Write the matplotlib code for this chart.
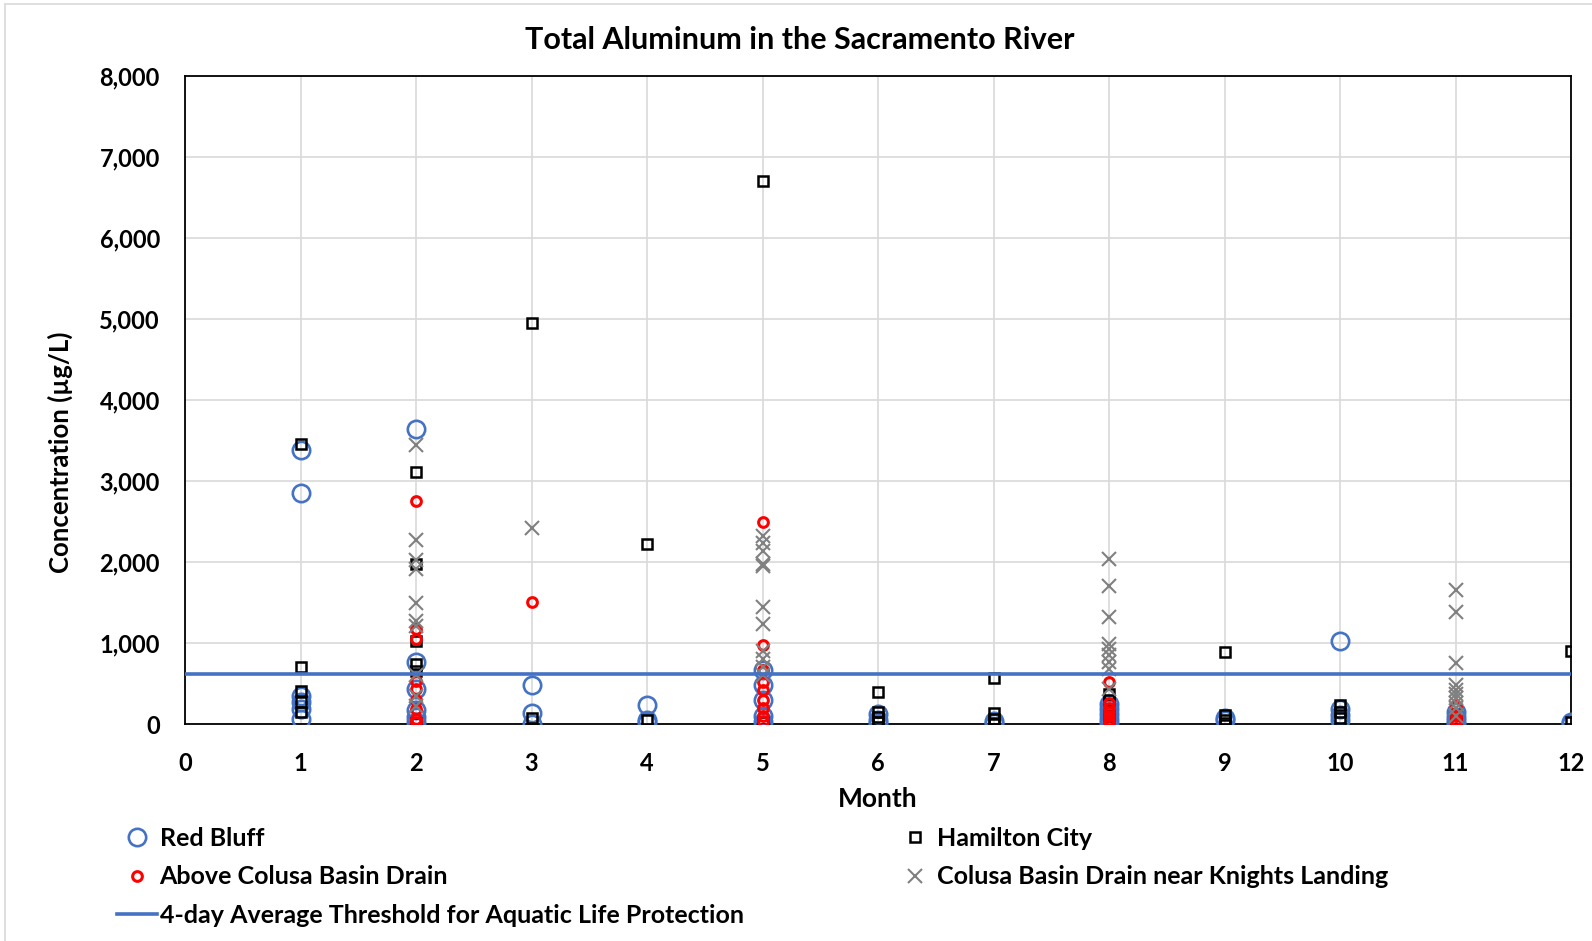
import os
import numpy as np
import matplotlib
matplotlib.use("Agg")
import matplotlib.pyplot as plt
from matplotlib import font_manager
from matplotlib.lines import Line2D
from matplotlib.patches import Rectangle
from matplotlib.ticker import FuncFormatter

# BUSCAR UN ARCHIVO DE FUENTE EN NEGRITA REAL (NO SEMIBOLD)
preferred = ['Lato', 'Roboto', 'Open Sans', 'Noto Sans', 'Liberation Sans', 'DejaVu Sans']
family, weight = 'DejaVu Sans', 'bold'
for name in preferred:
    found = None
    for f in font_manager.fontManager.ttflist:
        base = os.path.basename(f.fname).lower()
        if (f.name == name and 'bold' in base and 'italic' not in base
                and 'semi' not in base and 'extra' not in base
                and 'demi' not in base and 'oblique' not in base):
            found = f
            break
    if found is not None:
        family, weight = found.name, found.weight
        break
plt.rcParams['font.family'] = [family, 'DejaVu Sans']
plt.rcParams['font.weight'] = weight

# DATOS (mes, concentracion ug/L)
red_bluff_month = [1, 1, 1, 1, 1, 1,
                   2, 2, 2, 2, 2, 2,
                   3, 3, 3,
                   4, 4, 4,
                   5, 5, 5, 5, 5,
                   6, 6, 6,
                   7, 7,
                   8, 8, 8, 8, 8,
                   9, 9,
                   10, 10, 10, 10,
                   11, 11, 11, 11,
                   12, 12]
red_bluff_value = [3380, 2850, 350, 270, 180, 60,
                   3640, 760, 430, 170, 90, 20,
                   485, 140, 0,
                   240, 50, 20,
                   670, 480, 300, 100, 30,
                   120, 50, 10,
                   40, 10,
                   250, 180, 120, 60, 10,
                   70, 50,
                   1020, 180, 110, 50,
                   150, 90, 40, 0,
                   20, 10]

hamilton_month = [1, 1, 1, 1, 1,
                  2, 2, 2, 2, 2, 2,
                  3, 3,
                  4, 4,
                  5, 5,
                  6, 6, 6, 6,
                  7, 7, 7, 7,
                  8, 8, 8,
                  9, 9, 9, 9,
                  10, 10, 10,
                  11, 11,
                  12, 12]
hamilton_value = [3460, 700, 410, 270, 145,
                  3110, 1970, 1020, 740, 660, 10,
                  4950, 75,
                  2220, 50,
                  6700, 20,
                  395, 145, 85, 20,
                  565, 130, 65, 5,
                  370, 300, 100,
                  885, 115, 55, 10,
                  230, 145, 75,
                  50, 10,
                  900, 20]

above_colusa_month = [2, 2, 2, 2, 2, 2, 2, 2, 2,
                      3,
                      5, 5, 5, 5, 5, 5, 5, 5, 5,
                      8, 8, 8, 8, 8, 8, 8,
                      11, 11, 11, 11]
above_colusa_value = [2750, 1170, 1050, 530, 430, 300, 180, 60, 20,
                      1510,
                      2490, 980, 670, 520, 420, 300, 200, 100, 40,
                      520, 260, 200, 150, 100, 50, 10,
                      220, 100, 50, 10]

knights_month = [2, 2, 2, 2, 2, 2, 2, 2, 2, 2,
                 3,
                 5, 5, 5, 5, 5, 5, 5, 5, 5, 5, 5,
                 8, 8, 8, 8, 8, 8, 8, 8, 8,
                 11, 11, 11, 11, 11, 11, 11, 11, 11, 11]
knights_value = [3440, 2270, 2030, 1910, 1490, 1270, 1210, 600, 350, 220,
                 2420,
                 2320, 2230, 2130, 1980, 1950, 1440, 1230, 900, 800, 700, 600,
                 2040, 1700, 1320, 990, 930, 850, 760, 680, 430,
                 1650, 1380, 750, 480, 420, 370, 320, 260, 200, 100]

threshold = 620

blue = '#4472C4'

fig = plt.figure(figsize=(15.92, 9.41), dpi=100)
ax = fig.add_axes([185 / 1592, 1 - 724 / 941, (1571 - 185) / 1592, (724 - 76) / 941])

# BORDE EXTERIOR DEL GRAFICO
fig.patches.append(Rectangle((5 / 1592, -0.01), 1.01, 1 - 4 / 941 + 0.01,
                             transform=fig.transFigure, fill=False,
                             edgecolor='#d9d9d9', linewidth=1.2))

ax.plot(red_bluff_month, red_bluff_value, 'o', ms=12.5, mfc='none',
        mec=blue, mew=1.9, zorder=3)
ax.plot(hamilton_month, hamilton_value, 's', ms=7.5, mfc='none',
        mec='black', mew=1.8, zorder=4)
ax.plot(above_colusa_month, above_colusa_value, 'o', ms=7, mfc='none',
        mec='#ff0000', mew=2.2, zorder=5)
ax.plot(knights_month, knights_value, 'x', ms=10.5, color='#808080',
        mew=1.5, zorder=6)
ax.axhline(threshold, color=blue, lw=2.6, zorder=7)

ax.set_xlim(0, 12)
ax.set_ylim(0, 8000)
ax.set_xticks(range(0, 13))
ax.set_yticks(range(0, 8001, 1000))
ax.yaxis.set_major_formatter(FuncFormatter(lambda v, p: f'{int(v):,}'))
ax.grid(True, color='#d9d9d9', lw=1.2, zorder=0)
ax.set_axisbelow(True)
for s in ax.spines.values():
    s.set_color('black')
    s.set_linewidth(1.3)
ax.tick_params(axis='both', length=0, labelsize=17)
ax.tick_params(axis='y', pad=18)
ax.tick_params(axis='x', pad=20)
for lab in ax.get_xticklabels() + ax.get_yticklabels():
    lab.set_fontweight(weight)

# TITULO CENTRADO EN LA FIGURA (COMO EN EXCEL)
fig.text(0.5026, 1 - 40 / 941, 'Total Aluminum in the Sacramento River',
         fontsize=22, fontweight=weight, ha='center', va='center')
ax.set_xlabel('Month', fontsize=19, fontweight=weight, labelpad=9)
ax.set_ylabel('Concentration (µg/L)', fontsize=18.5, fontweight=weight)
ax.yaxis.set_label_coords(-0.081, 0.42)

# LEYENDA
handles = [
    Line2D([], [], ls='none', marker='o', ms=12.5, mfc='none', mec=blue, mew=1.9),
    Line2D([], [], ls='none', marker='o', ms=7, mfc='none', mec='#ff0000', mew=2.2),
    Line2D([], [], color=blue, lw=2.6),
    Line2D([], [], ls='none', marker='s', ms=7.5, mfc='none', mec='black', mew=1.8),
    Line2D([], [], ls='none', marker='x', ms=10.5, color='#808080', mew=1.5),
]
labels = ['Red Bluff', 'Above Colusa Basin Drain',
          '4-day Average Threshold for Aquatic Life Protection',
          'Hamilton City', 'Colusa Basin Drain near Knights Landing']
fig.legend(handles, labels, ncol=2, loc='upper left',
           bbox_to_anchor=(117 / 1592, 1 - 827 / 941), frameon=False,
           prop={'size': 18, 'weight': weight}, handlelength=1.6,
           handletextpad=0.1, columnspacing=6.05, labelspacing=0.62,
           borderpad=0, borderaxespad=0)

fig.savefig('out.png', dpi=100)
